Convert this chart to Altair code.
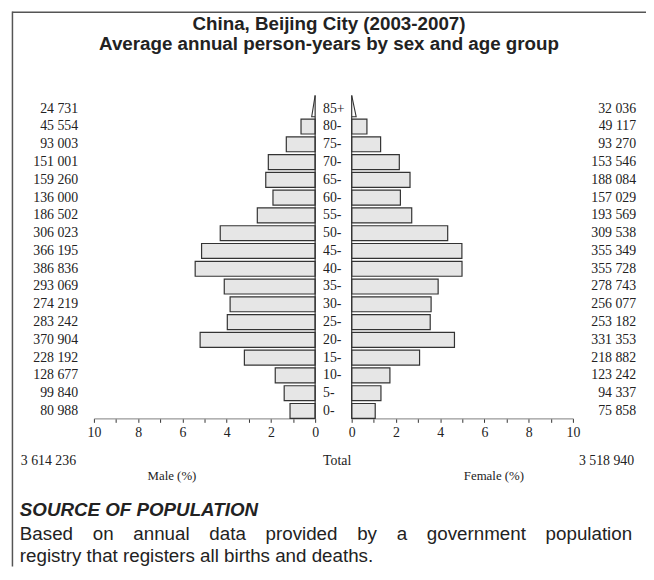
import altair as alt
import pandas as pd

# ---- data ----
ages = ["0-", "5-", "10-", "15-", "20-", "25-", "30-", "35-", "40-",
        "45-", "50-", "55-", "60-", "65-", "70-", "75-", "80-", "85+"]
male = [80988, 99840, 128677, 228192, 370904, 283242, 274219, 293069, 386836,
        366195, 306023, 186502, 136000, 159260, 151001, 93003, 45554, 24731]
female = [75858, 94337, 123242, 218882, 331353, 253182, 256077, 278743, 355728,
          355349, 309538, 193569, 157029, 188084, 153546, 93270, 49117, 32036]
tick_values = list(range(0, 11))

title_lines = ["China, Beijing City (2003-2007)",
               "Average annual person-years by sex and age group"]
source_head = "SOURCE OF POPULATION"
source_line1 = "Based on annual data provided by a government population"
source_line2 = "registry that registers all births and deaths."

W, H = 646, 562
SERIF = "Liberation Serif"
SANS = "Liberation Sans"
INK = "#222222"


def fmt(v):
    return f"{v:,}".replace(",", " ")


total_m, total_f = sum(male), sum(female)
total = total_m + total_f
n = len(ages)
last = n - 1

df = pd.DataFrame({"idx": list(range(n)), "age": ages, "m": male, "f": female})
df["mp"] = df["m"] / total * 100
df["fp"] = df["f"] / total * 100
df["ml"] = df["m"].map(fmt)
df["fl"] = df["f"].map(fmt)
df["y0"] = df["idx"] - 0.42
df["y1"] = df["idx"] + 0.42
df["zero"] = 0.0
bars = df[df["idx"] < last]

TOP = last + 0.75
BASE = last - 0.45
tri_m = pd.DataFrame({"x": [0, df["mp"].iloc[-1] * 0.45, 0], "y": [TOP, BASE, BASE], "o": [0, 1, 2]})
tri_f = pd.DataFrame({"x": [0, df["fp"].iloc[-1] * 0.45, 0], "y": [TOP, BASE, BASE], "o": [0, 1, 2]})
zline = pd.DataFrame({"zero": [0.0], "top": [TOP], "bot": [-0.42]})

ys = alt.Scale(domain=[0, last], range=[404.5, 98.5], nice=False, zero=False)
xm = alt.Scale(domain=[0, 10], range=[311, 87], nice=False, zero=False)
xf = alt.Scale(domain=[0, 10], range=[348, 572], nice=False, zero=False)


def make_axis():
    return alt.Axis(values=tick_values, orient="bottom", offset=-150,
                    labelExpr="datum.value % 2 == 0 ? datum.label : ''",
                    format="d", title=None, grid=False,
                    domainColor="#999999", domainWidth=1.2,
                    tickColor="#333333", tickSize=4, tickWidth=1,
                    labelFont=SERIF, labelFontSize=14, labelColor=INK,
                    labelPadding=3, labelFlush=False, labelOverlap=False)


bar_style = dict(fill="#e6e6e6", stroke="#333333", strokeWidth=1.2)

male_bars = alt.Chart(bars).mark_rect(**bar_style).encode(
    x=alt.X("mp:Q", scale=xm, axis=make_axis()), x2="zero:Q",
    y=alt.Y("y0:Q", scale=ys, axis=None), y2="y1:Q")
female_bars = alt.Chart(bars).mark_rect(**bar_style).encode(
    x=alt.X("fp:Q", scale=xf, axis=make_axis()), x2="zero:Q",
    y=alt.Y("y0:Q", scale=ys, axis=None), y2="y1:Q")

male_tri = alt.Chart(tri_m).mark_line(color="#333333", strokeWidth=1.1).encode(
    x=alt.X("x:Q", scale=xm, axis=None), y=alt.Y("y:Q", scale=ys, axis=None), order="o:Q")
female_tri = alt.Chart(tri_f).mark_line(color="#333333", strokeWidth=1.1).encode(
    x=alt.X("x:Q", scale=xf, axis=None), y=alt.Y("y:Q", scale=ys, axis=None), order="o:Q")

male_zero = alt.Chart(zline).mark_rule(color="#333333", strokeWidth=1.2).encode(
    x=alt.X("zero:Q", scale=xm, axis=None), y=alt.Y("top:Q", scale=ys, axis=None), y2="bot:Q")
female_zero = alt.Chart(zline).mark_rule(color="#333333", strokeWidth=1.2).encode(
    x=alt.X("zero:Q", scale=xf, axis=None), y=alt.Y("top:Q", scale=ys, axis=None), y2="bot:Q")

num_style = dict(font=SERIF, fontSize=14, color=INK, baseline="middle")
male_nums = alt.Chart(df).mark_text(align="right", **num_style).encode(
    x=alt.value(71), y=alt.Y("idx:Q", scale=ys, axis=None), text="ml:N")
female_nums = alt.Chart(df).mark_text(align="right", **num_style).encode(
    x=alt.value(636), y=alt.Y("idx:Q", scale=ys, axis=None), text="fl:N")
age_labels = alt.Chart(df).mark_text(align="left", **num_style).encode(
    x=alt.value(319), y=alt.Y("idx:Q", scale=ys, axis=None), text="age:N")

one = pd.DataFrame({"k": [0]})


def label(text, x, y, size, font, weight="normal", style="normal", align="left", color=INK):
    return alt.Chart(one).mark_text(text=text, fontSize=size, font=font, fontWeight=weight,
                                    fontStyle=style, align=align, baseline="middle",
                                    color=color).encode(x=alt.value(x), y=alt.value(y))


texts = [
    label(title_lines[0], 325, 13, 19, SANS, weight="bold", align="center"),
    label(title_lines[1], 325, 33, 19, SANS, weight="bold", align="center"),
    label(fmt(total_m), 13, 455, 14, SERIF),
    label("Total", 319, 455, 14, SERIF),
    label(fmt(total_f), 634, 455, 14, SERIF, align="right"),
    label("Male (%)", 166, 470, 13, SERIF, align="center"),
    label("Female (%)", 492, 470, 13, SERIF, align="center"),
    label(source_head, 12, 505, 19, SANS, weight="bold", style="italic"),
    label(source_line2, 12, 551, 19, SANS),
]

# justified first line of the source text (Arial/Liberation Sans advance widths)
AW = {'B': .667, 'a': .556, 's': .5, 'e': .556, 'd': .556, 'o': .556, 'n': .556,
      'u': .556, 'l': .222, 't': .278, 'p': .556, 'r': .333, 'v': .5, 'i': .222,
      'b': .556, 'y': .5, 'g': .556, 'm': .833}
FS = 19
words = source_line1.split(" ")
widths = [sum(AW.get(c, .556) for c in w) * FS for w in words]
x_left, x_right = 12, 632
gap = (x_right - x_left - sum(widths)) / (len(words) - 1)
xpos = x_left
for w, wd in zip(words, widths):
    texts.append(label(w, xpos, 529, FS, SANS))
    xpos += wd + gap

frame_left = alt.Chart(one).mark_rule(color="#555555", strokeWidth=1.5).encode(
    x=alt.value(4.5), y=alt.value(0), y2=alt.value(H))
frame_top = alt.Chart(one).mark_rule(color="#555555", strokeWidth=1.5).encode(
    x=alt.value(4.5), x2=alt.value(W), y=alt.value(0.75))

chart = alt.layer(
    male_bars, female_bars, male_tri, female_tri, male_zero, female_zero,
    male_nums, female_nums, age_labels, frame_left, frame_top, *texts
).resolve_scale(x="independent").properties(
    width=W, height=H, autosize=alt.AutoSizeParams(type="none"), padding=0,
    background="white"
).configure_view(stroke=None)

chart.save("out.html", embed_options={"renderer": "svg", "actions": False})
